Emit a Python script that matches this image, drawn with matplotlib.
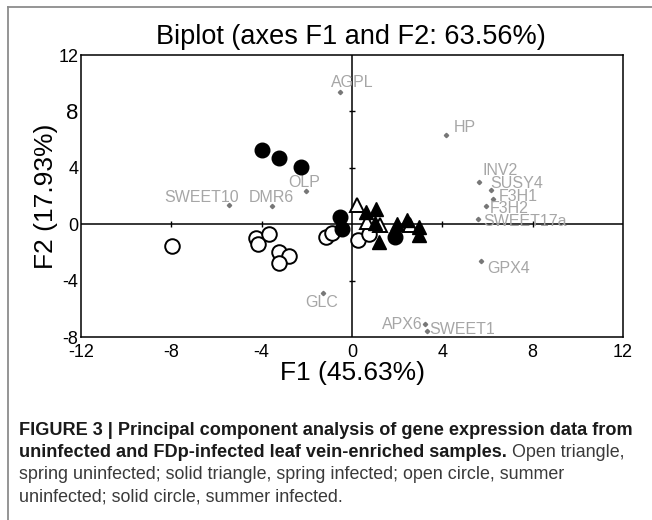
import numpy as np
import matplotlib
matplotlib.use("Agg")
import matplotlib.pyplot as plt
from matplotlib.lines import Line2D

plt.rcParams['font.family'] = ['Liberation Sans', 'DejaVu Sans']
plt.rcParams['axes.unicode_minus'] = False

# sample scores (F1, F2)
spring_uninf_x = [0.24, 0.65, 1.23, 2.57]
spring_uninf_y = [1.36, 0.18, -0.06, -0.06]
spring_inf_x = [0.62, 1.06, 1.02, 1.20, 2.00, 2.45, 2.98, 2.98]
spring_inf_y = [0.89, 1.06, 0.10, -1.24, 0.01, 0.30, -0.18, -0.77]
summer_uninf_x = [-7.99, -4.25, -4.15, -3.66, -3.22, -2.80, -3.25, -1.15, -0.90, 0.26, 0.77]
summer_uninf_y = [-1.55, -0.96, -1.43, -0.70, -1.95, -2.26, -2.73, -0.88, -0.60, -1.10, -0.68]
summer_inf_x = [-4.00, -3.22, -2.27, -0.53, -0.46, 1.91]
summer_inf_y = [5.26, 4.67, 4.03, 0.49, -0.36, -0.91]

# gene loadings
genes = ['AGPL', 'HP', 'INV2', 'SUSY4', 'F3H1', 'F3H2', 'SWEET17a', 'GPX4',
         'APX6', 'SWEET1', 'GLC', 'SWEET10', 'DMR6', 'OLP']
gene_x = [-0.53, 4.15, 5.64, 6.14, 6.26, 5.93, 5.60, 5.70, 3.25, 3.30, -1.30, -5.43, -3.56, -2.04]
gene_y = [9.40, 6.33, 3.00, 2.43, 1.76, 1.29, 0.35, -2.60, -7.10, -7.60, -4.86, 1.36, 1.29, 2.38]

# label placement (pixel offsets, alignment)
label_pos = {
    'AGPL': (12, 9, 'center'), 'HP': (8, 7, 'left'), 'INV2': (3, 11, 'left'),
    'SUSY4': (0, 6, 'left'), 'F3H1': (5, 3, 'left'), 'F3H2': (4, -2, 'left'),
    'SWEET17a': (5, -2, 'left'), 'GPX4': (7, -8, 'left'), 'APX6': (-3, 0, 'right'),
    'SWEET1': (3, 2, 'left'), 'GLC': (-1, -10, 'center'), 'SWEET10': (10, 8, 'right'),
    'DMR6': (0, 9, 'center'), 'OLP': (-2, 8, 'center'),
}

xticks = [-12, -8, -4, 0, 4, 8, 12]
yticks = [-8, -4, 0, 4, 8, 12]

fig = plt.figure(figsize=(6.52, 5.2), dpi=100)
ax = fig.add_axes([81 / 652, 1 - 337 / 520, 542 / 652, 282 / 520])

ax.set_xlim(-12, 12)
ax.set_ylim(-8, 12)
ax.axhline(0, color='black', lw=1.1, zorder=1)
ax.axvline(0, color='black', lw=1.1, zorder=1)
# small ticks on the centre lines
ax.plot([t for t in xticks if t not in (-12, 0, 12)], [0] * 4, ls='none', marker='|',
        ms=5, color='black', mew=1.0, zorder=1)
ax.plot([0] * 3, [t for t in yticks if t not in (-8, 0, 12)], ls='none', marker='_',
        ms=5, color='black', mew=1.0, zorder=1)

# gene loadings
ax.plot(gene_x, gene_y, ls='none', marker='D', ms=2.2, color='#777777', zorder=2)
for g, gx, gy in zip(genes, gene_x, gene_y):
    dx, dy, ha = label_pos[g]
    ax.annotate(g, (gx, gy), xytext=(dx, dy), textcoords='offset pixels',
                ha=ha, va='center', fontsize=11.5, color='#a6a6a6', zorder=2)

# samples
ax.plot(summer_uninf_x, summer_uninf_y, ls='none', marker='o', ms=10.5, mfc='white',
        mec='black', mew=1.4, zorder=3)
ax.plot(summer_inf_x, summer_inf_y, ls='none', marker='o', ms=10.5, mfc='black',
        mec='black', mew=1.0, zorder=4)
ax.plot(spring_uninf_x, spring_uninf_y, ls='none', marker='^', ms=10, mfc='white',
        mec='black', mew=1.4, zorder=5)
ax.plot(spring_inf_x, spring_inf_y, ls='none', marker='^', ms=10, mfc='black',
        mec='black', mew=1.0, zorder=6)

ax.set_xticks(xticks)
ax.set_yticks(yticks)
ax.tick_params(length=0, labelsize=13)
ax.tick_params(axis='x', pad=5)
ax.tick_params(axis='y', pad=2)
for lab in ax.get_yticklabels():
    if lab.get_text() == '8':
        lab.set_fontsize(16)
for sp in ax.spines.values():
    sp.set_linewidth(1.1)

ax.set_xlabel('F1 (45.63%)', fontsize=19, labelpad=0)
ax.set_ylabel('F2 (17.93%)', fontsize=19, labelpad=0)
fig.text(351 / 652, 1 - 37 / 520, 'Biplot (axes F1 and F2: 63.56%)', fontsize=19.5,
         ha='center', va='center')

# frame lines of the figure panel
fig.add_artist(Line2D([8 / 652, 1], [1 - 7 / 520] * 2, color='#8c8c8c', lw=1.3))
fig.add_artist(Line2D([8 / 652] * 2, [0, 1 - 7 / 520], color='#8c8c8c', lw=1.3))

# caption
bold_size = 13.1
reg_size = 12.9
x0 = 19 / 652
fig.text(x0, 1 - 435 / 520,
         'FIGURE 3 | Principal component analysis of gene expression data from',
         fontsize=bold_size, fontweight='bold', va='baseline', color='#1a1a1a')
t2 = fig.text(x0, 1 - 457 / 520,
              'uninfected and FDp-infected leaf vein-enriched samples.',
              fontsize=bold_size, fontweight='bold', va='baseline', color='#1a1a1a')
fig.text(x0, 1 - 479 / 520,
         'spring uninfected; solid triangle, spring infected; open circle, summer',
         fontsize=reg_size, va='baseline', color='#3a3a3a')
fig.text(x0, 1 - 501 / 520, 'uninfected; solid circle, summer infected.',
         fontsize=reg_size, va='baseline', color='#3a3a3a')
fig.canvas.draw()
bb = t2.get_window_extent()
fig.text(bb.x1 / 652, 1 - 457 / 520, ' Open triangle,', fontsize=reg_size,
         va='baseline', color='#3a3a3a')

fig.savefig('out.png', dpi=100)
